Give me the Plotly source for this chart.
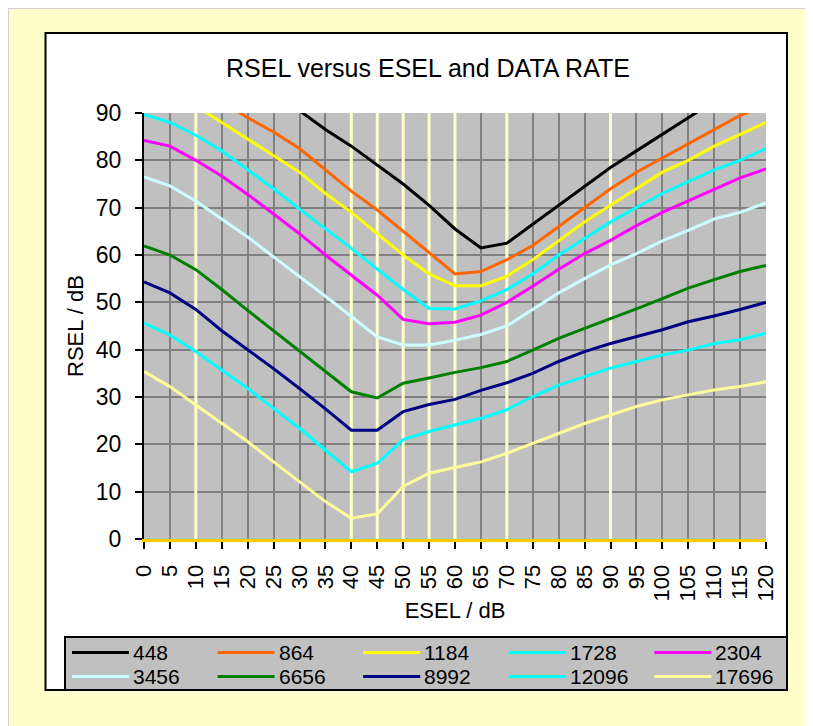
import plotly.graph_objects as go

# ---------------- data ----------------
esel = list(range(0, 125, 5))

rate_labels = ["448", "864", "1184", "1728", "2304",
               "3456", "6656", "8992", "12096", "17696"]

rsel_448 = [113, 109, 105, 101.5, 98, 94.5, 90.5, 86.5, 83, 79, 75, 70.5, 65.5,
            61.5, 62.5, 66.5, 70.5, 74.5, 78.5, 82, 85.5, 89, 92.5, 96, 99.5]
rsel_864 = [104, 100, 96.5, 92.5, 89, 86, 82.5, 78, 73.5, 69.5, 65, 60.5, 56,
            56.5, 59, 62, 66, 70, 74, 77.5, 80.5, 83.5, 86.5, 89.5, 91.5]
rsel_1184 = [98.5, 95, 91.5, 88, 84.5, 81, 77.5, 73, 69, 64.5, 60, 56, 53.5,
             53.5, 55.5, 59, 63, 67, 70.5, 74, 77.5, 80, 83, 85.5, 88]
rsel_1728 = [89.7, 88, 85.3, 82, 78, 74, 69.7, 65.5, 61.4, 57, 52.7, 48.7, 48.6,
             50.3, 52.7, 56, 60, 63.5, 67, 70, 73, 75.5, 78, 80, 82.5]
rsel_2304 = [84.2, 83, 80, 76.7, 72.8, 68.7, 64.5, 60, 55.8, 51.5, 46.4, 45.5, 45.8,
             47.3, 50, 53.4, 57, 60.3, 63.1, 66.2, 69, 71.4, 73.9, 76.3, 78.2]
rsel_3456 = [76.5, 74.6, 71.4, 67.6, 63.8, 59.6, 55.5, 51.3, 47, 42.7, 41, 41, 42,
             43.2, 45, 48.5, 52, 55, 57.9, 60.3, 63, 65.2, 67.6, 69, 71]
rsel_6656 = [61.9, 60, 56.9, 52.7, 48.3, 44, 39.9, 35.5, 31.1, 29.8, 32.9, 34, 35.2,
             36.2, 37.5, 39.9, 42.4, 44.5, 46.5, 48.6, 50.8, 53, 54.8, 56.5, 57.8]
rsel_8992 = [54.3, 52, 48.5, 44, 40, 36, 31.8, 27.5, 23, 23, 26.9, 28.4, 29.5,
             31.4, 33, 35, 37.5, 39.6, 41.3, 42.8, 44.2, 45.9, 47.1, 48.5, 50]
rsel_12096 = [45.6, 43.1, 39.6, 35.7, 31.8, 27.6, 23.4, 18.8, 14.2, 16, 21, 22.7, 24.1,
              25.5, 27.3, 30.1, 32.5, 34.3, 36.1, 37.5, 38.9, 39.9, 41.3, 42.1, 43.5]
rsel_17696 = [35.4, 32.2, 28.3, 24.4, 20.6, 16.3, 12.1, 7.9, 4.4, 5.3, 11.1, 13.9, 15.1,
              16.3, 18.1, 20.2, 22.3, 24.4, 26.2, 28, 29.4, 30.5, 31.5, 32.2, 33.2]

series_values = [rsel_448, rsel_864, rsel_1184, rsel_1728, rsel_2304,
                 rsel_3456, rsel_6656, rsel_8992, rsel_12096, rsel_17696]

series_colors = ["#000000", "#ff6600", "#ffff00", "#00ffff", "#ff00ff",
                 "#ccffff", "#008000", "#000080", "#00ffff", "#ffff99"]

marker_esel = [10, 40, 45, 50, 55, 60, 70, 90]

x_ticks = list(range(0, 125, 5))
y_ticks = list(range(0, 100, 10))

# ---------------- geometry (page pixels; the page body adds an 8px offset) ----------------
OFF = 8
W, H = 813 - OFF, 726 - OFF
PL, PR, PT, PB = 144, 766, 113, 539   # plot area in page pixels


def px(x):
    return (x - PL) / (PR - PL)


def py(y):
    return (PB - y) / (PB - PT)


FONT = "Liberation Sans, Arial, sans-serif"

fig = go.Figure()

# pale yellow vertical reference lines
mx, my = [], []
for v in marker_esel:
    mx += [v, v, None]
    my += [0, 90, None]
fig.add_trace(go.Scatter(x=mx, y=my, mode="lines",
                         line=dict(color="#ffffcc", width=3),
                         hoverinfo="skip", showlegend=False))

for name, vals, col in zip(rate_labels, series_values, series_colors):
    fig.add_trace(go.Scatter(x=esel, y=vals, mode="lines", name=name,
                             line=dict(color=col, width=3),
                             showlegend=False))

shapes = [
    # thin frame lines at the top and left of the yellow surround
    dict(type="line", xref="paper", yref="paper", layer="below",
         x0=px(OFF), x1=px(813), y0=py(OFF + 0.5), y1=py(OFF + 0.5),
         line=dict(color="#d0d0d0", width=1)),
    dict(type="line", xref="paper", yref="paper", layer="below",
         x0=px(OFF + 0.5), x1=px(OFF + 0.5), y0=py(OFF), y1=py(726),
         line=dict(color="#d0d0d0", width=1)),
    # white chart box
    dict(type="rect", xref="paper", yref="paper", layer="below",
         x0=px(45.5), x1=px(787), y0=py(33), y1=py(690),
         fillcolor="#ffffff", line=dict(color="#000000", width=2)),
    # gray plot area
    dict(type="rect", xref="paper", yref="paper", layer="below",
         x0=0, x1=1, y0=0, y1=1, fillcolor="#c0c0c0", line=dict(width=0)),
    # legend box
    dict(type="rect", xref="paper", yref="paper", layer="below",
         x0=px(65), x1=px(787), y0=py(637), y1=py(690),
         fillcolor="#c0c0c0", line=dict(color="#000000", width=2)),
]

annotations = []
pitch = 145.6
for i, (name, col) in enumerate(zip(rate_labels, series_colors)):
    c, r = i % 5, i // 5
    x0 = 72 + pitch * c
    x1 = x0 + 57
    yc = 652.5 + 24 * r
    shapes.append(dict(type="line", xref="paper", yref="paper",
                       x0=px(x0), x1=px(x1), y0=py(yc), y1=py(yc),
                       line=dict(color=col, width=3)))
    annotations.append(dict(text=name, xref="paper", yref="paper",
                            x=px(x1 + 2), y=py(yc), xanchor="left", yanchor="middle",
                            showarrow=False, font=dict(family=FONT, size=21, color="#000000")))

fig.update_layout(
    width=W, height=H,
    margin=dict(l=PL - OFF, r=W - (PR - OFF), t=PT - OFF, b=H - (PB - OFF), pad=0),
    paper_bgcolor="#ffffcc",
    plot_bgcolor="rgba(0,0,0,0)",
    font=dict(family=FONT, size=22, color="#000000"),
    title=dict(text="RSEL versus ESEL and DATA RATE", x=(428 - OFF) / W, xanchor="center",
               y=1 - (68.5 - OFF) / H, yanchor="middle", xref="container", yref="container",
               font=dict(family=FONT, size=25, color="#000000")),
    shapes=shapes,
    annotations=annotations,
    showlegend=False,
    xaxis=dict(range=[0, 120], tickvals=x_ticks, ticktext=[str(t) for t in x_ticks],
               tickangle=-90, showgrid=True, gridcolor="#808080", gridwidth=2,
               showline=True, linecolor="#ffcc00", linewidth=3,
               ticks="outside", ticklen=7, tickwidth=2, tickcolor="#000000",
               zeroline=False, tickfont=dict(size=22), ticklabelstandoff=7,
               title=dict(text="ESEL / dB", font=dict(size=22), standoff=3)),
    yaxis=dict(range=[0, 90], tickvals=y_ticks, showgrid=True, gridcolor="#808080",
               gridwidth=2, showline=True, linecolor="#000000", linewidth=2,
               ticks="outside", ticklen=7, tickwidth=2, tickcolor="#000000",
               zeroline=False, tickfont=dict(size=23), ticklabelstandoff=9,
               title=dict(text="RSEL / dB", font=dict(size=22), standoff=6)),
)

fig.write_html("out.html")
